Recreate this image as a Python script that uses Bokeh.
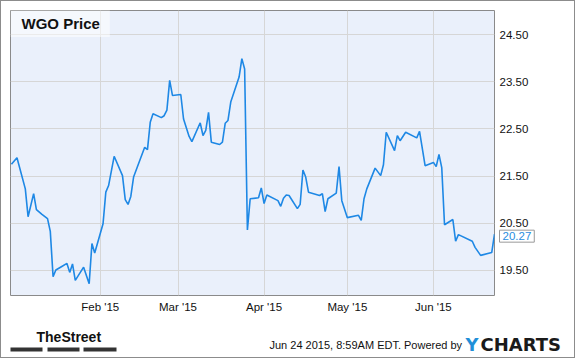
import pandas as pd
from bokeh.plotting import figure
from bokeh.layouts import column
from bokeh.models import (Range1d, FixedTicker, DatetimeTickFormatter, Label,
                          NumeralTickFormatter, BoxAnnotation)
from bokeh.embed import file_html
from bokeh.resources import INLINE

# ---- data ----
dates = [
    "2014-12-31", "2015-01-02", "2015-01-05", "2015-01-06", "2015-01-08", "2015-01-09",
    "2015-01-11", "2015-01-13", "2015-01-14", "2015-01-15", "2015-01-16", "2015-01-18",
    "2015-01-20", "2015-01-21", "2015-01-22", "2015-01-23", "2015-01-26", "2015-01-28",
    "2015-01-29", "2015-01-30", "2015-02-02", "2015-02-03", "2015-02-04", "2015-02-06",
    "2015-02-09", "2015-02-10", "2015-02-11", "2015-02-12", "2015-02-13", "2015-02-17",
    "2015-02-18", "2015-02-19", "2015-02-20", "2015-02-23", "2015-02-24", "2015-02-25",
    "2015-02-26", "2015-02-27", "2015-03-02", "2015-03-03", "2015-03-05", "2015-03-06",
    "2015-03-09", "2015-03-10", "2015-03-11", "2015-03-12", "2015-03-13", "2015-03-16",
    "2015-03-17", "2015-03-18", "2015-03-19", "2015-03-20", "2015-03-23", "2015-03-24",
    "2015-03-25", "2015-03-26", "2015-03-27", "2015-03-30", "2015-03-31", "2015-04-01",
    "2015-04-02", "2015-04-06", "2015-04-07", "2015-04-08", "2015-04-09", "2015-04-10",
    "2015-04-13", "2015-04-14", "2015-04-15", "2015-04-16", "2015-04-17", "2015-04-21",
    "2015-04-22", "2015-04-23", "2015-04-24", "2015-04-27", "2015-04-28", "2015-04-29",
    "2015-05-01", "2015-05-05", "2015-05-06", "2015-05-07", "2015-05-08", "2015-05-11",
    "2015-05-13", "2015-05-14", "2015-05-15", "2015-05-18", "2015-05-19", "2015-05-20",
    "2015-05-22", "2015-05-26", "2015-05-27", "2015-05-29", "2015-06-01", "2015-06-02",
    "2015-06-03", "2015-06-04", "2015-06-05", "2015-06-08", "2015-06-09", "2015-06-10",
    "2015-06-15", "2015-06-16", "2015-06-18", "2015-06-22", "2015-06-23",
]
prices = [
    21.75, 21.89, 21.23, 20.64, 21.13, 20.79,
    20.69, 20.60, 20.33, 19.37, 19.51, 19.58,
    19.65, 19.46, 19.64, 19.29, 19.57, 19.22,
    20.07, 19.87, 20.49, 21.16, 21.30, 21.92,
    21.51, 21.00, 20.90, 21.07, 21.48, 22.11,
    22.06, 22.64, 22.82, 22.74, 22.78, 22.90,
    23.53, 23.21, 23.23, 22.71, 22.34, 22.23,
    22.63, 22.36, 22.47, 22.85, 22.22, 22.17,
    22.22, 22.62, 22.68, 23.07, 23.60, 23.99,
    23.77, 20.36, 21.02, 21.04, 21.25, 20.92,
    21.10, 20.98, 20.86, 21.03, 21.10, 21.09,
    20.81, 20.90, 21.63, 21.48, 21.16, 21.09,
    21.13, 20.75, 21.02, 21.14, 21.70, 20.98,
    20.62, 20.67, 20.56, 21.02, 21.23, 21.67,
    21.51, 21.74, 22.43, 22.04, 22.36, 22.25,
    22.43, 22.31, 22.45, 21.72, 21.79, 21.70,
    21.96, 21.68, 20.47, 20.58, 20.12, 20.26,
    20.12, 19.99, 19.82, 19.88, 20.27,
]
month_ticks = ["2015-02-01", "2015-03-01", "2015-04-01", "2015-05-01", "2015-06-01"]
price_ticks = [19.5, 20.5, 21.5, 22.5, 23.5, 24.5]
title_text = "WGO Price"
last_text = "20.27"
stamp_text = "Jun 24 2015, 8:59AM EDT. Powered by"
brand_left = "TheStreet"
brand_y = "Y"
brand_rest = "CHARTS"

x = pd.to_datetime(dates)
tick_ms = [pd.Timestamp(d).value / 1e6 for d in month_ticks]

# ---------------- main chart ----------------
p = figure(width=573, height=319, x_axis_type="datetime", y_axis_location="right",
           output_backend="svg", toolbar_location=None,
           x_range=Range1d(pd.Timestamp("2014-12-30 16:00"), pd.Timestamp("2015-06-23")),
           y_range=Range1d(18.97, 25.01),
           min_border_left=9, min_border_top=9, min_border_right=80, min_border_bottom=25)

p.background_fill_color = "#eaf0fb"
p.border_fill_color = "white"
p.outline_line_color = "#8a8a8a"
p.outline_line_width = 1

xt = FixedTicker(ticks=tick_ms)
yt = FixedTicker(ticks=price_ticks)
p.xaxis.ticker = xt
p.xgrid.ticker = xt
p.yaxis.ticker = yt
p.ygrid.ticker = yt
fmt = "%b '%y"
p.xaxis.formatter = DatetimeTickFormatter(days=fmt, months=fmt, years=fmt, hours=fmt,
                                          minutes=fmt, seconds=fmt, milliseconds=fmt,
                                          microseconds=fmt, hourmin=fmt, minsec=fmt)
p.yaxis.formatter = NumeralTickFormatter(format="0.00")
p.grid.grid_line_color = "#d6d6d6"
p.grid.grid_line_width = 1

for ax in (p.xaxis, p.yaxis):
    ax.axis_line_color = None
    ax.major_tick_line_color = None
    ax.minor_tick_line_color = None
    ax.major_tick_out = 0
    ax.major_tick_in = 0
    ax.major_label_text_font = "Liberation Sans"
    ax.major_label_text_font_size = "11.5px"
    ax.major_label_text_color = "#111111"
    ax.major_label_standoff = 5

p.line(x, prices, line_color="#1e88e5", line_width=1.6)

# title box
p.add_layout(Label(x=0, y=272, x_units="screen", y_units="screen", text=title_text,
                   text_font="Liberation Sans", text_font_style="bold", text_font_size="15px",
                   text_color="#111111", text_baseline="middle", text_align="left",
                   background_fill_color="white", background_fill_alpha=0.5,
                   padding=dict(left=11, right=10, top=5, bottom=5)))

# last value callout (in the right side panel so it is not clipped to the frame)
p.add_layout(Label(x=x[-1], y=prices[-1], text=last_text, x_offset=5, y_offset=-2,
                   text_font="Liberation Sans", text_font_size="11.5px", text_color="#2a8de0",
                   text_baseline="middle", text_align="left",
                   background_fill_color="white", border_line_color="#999999",
                   padding=dict(left=3, right=3, top=2, bottom=2)), "right")

# ---------------- footer ----------------
f = figure(width=573, height=37, output_backend="svg", toolbar_location=None,
           x_axis_location=None, y_axis_location=None,
           x_range=Range1d(0, 1), y_range=Range1d(0, 1),
           min_border=0, min_border_left=0, min_border_right=0,
           min_border_top=0, min_border_bottom=0)
f.outline_line_color = None
f.background_fill_color = "white"
f.border_fill_color = "white"
f.grid.visible = False
for fig in (p, f):
    if "frame_align" in fig.properties():
        fig.frame_align = False

f.add_layout(Label(x=268, y=13, x_units="screen", y_units="screen", text=stamp_text,
                   text_font="Liberation Sans", text_font_size="11px", text_color="#111111",
                   text_baseline="middle", text_align="left"))
f.add_layout(Label(x=464, y=13, x_units="screen", y_units="screen", text=brand_y,
                   text_font="DejaVu Sans", text_font_style="bold", text_font_size="18px",
                   text_color="#1f8fd8", text_baseline="middle", text_align="left"))
f.add_layout(Label(x=479, y=13, x_units="screen", y_units="screen", text=brand_rest,
                   text_font="DejaVu Sans", text_font_style="bold", text_font_size="18px",
                   text_color="#1a1a1a", text_baseline="middle", text_align="left"))
f.add_layout(Label(x=35, y=21, x_units="screen", y_units="screen", text=brand_left,
                   text_font="Liberation Sans", text_font_style="bold",
                   text_font_size="14px", text_color="#111111",
                   text_baseline="middle", text_align="left"))
for l, r in [(9, 41), (46, 78), (82, 115)]:
    f.add_layout(BoxAnnotation(left=l, right=r, top=10, bottom=6,
                               left_units="screen", right_units="screen",
                               top_units="screen", bottom_units="screen",
                               fill_color="#333333", fill_alpha=1, line_color=None))

layout = column(p, f, spacing=0, styles={"border": "1px solid #8c8c8c"})
open("out.html", "w").write(file_html(layout, INLINE))
